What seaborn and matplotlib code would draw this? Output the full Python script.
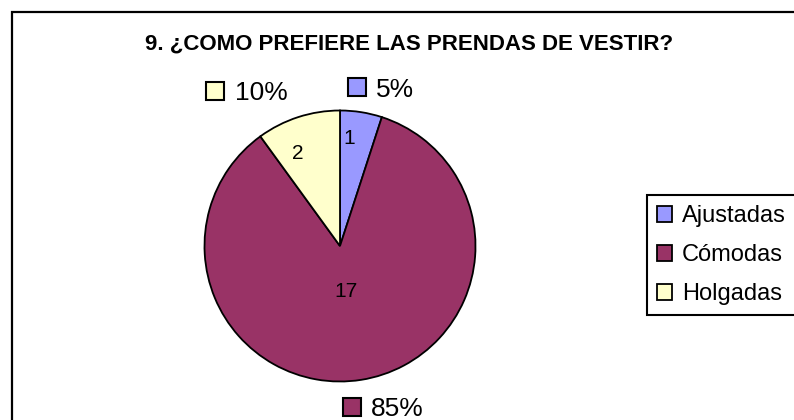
import matplotlib
matplotlib.use("Agg")
import matplotlib.pyplot as plt
import matplotlib.patches as patches
import seaborn as sns

# Data
categories = ["Ajustadas", "Cómodas", "Holgadas"]
counts = [1, 17, 2]
percent_labels = ["5%", "85%", "10%"]
title = "9. ¿COMO PREFIERE LAS PRENDAS DE VESTIR?"

sns.set_theme(style="white")
plt.rcParams["font.family"] = ["Liberation Sans", "DejaVu Sans"]
plt.rcParams["text.color"] = "black"

colors = sns.color_palette(["#9999FF", "#993366", "#FFFFCC"])

W, H = 794, 420
fig = plt.figure(figsize=(W / 100, H / 100), dpi=100)
fig.patch.set_facecolor("white")

# outer chart border (runs off the right and bottom edge)
fig.add_artist(patches.Rectangle((11.5 / W, -0.2), 1.5, 1.2 - 12 / H,
                                 transform=fig.transFigure, fill=False,
                                 edgecolor="black", linewidth=1.6))

fig.text(409 / W, 1 - 49.5 / H, title, ha="center", va="baseline",
         fontsize=16, fontweight="bold")

# pie: centre (340, 246) px, radius 135.5 px
cx, cy, r = 340, 246, 135.5
ax = fig.add_axes([(cx - r) / W, (H - cy - r) / H, 2 * r / W, 2 * r / H])
wedges, _ = ax.pie(counts, colors=colors, startangle=90, counterclock=False,
                   wedgeprops=dict(edgecolor="black", linewidth=1.3))
ax.set_xlim(-1, 1)
ax.set_ylim(-1, 1)
ax.axis("off")

# count labels inside slices
inner_pos = [(0.066, 0.79), (0.044, -0.336), (-0.314, 0.679)]
for (x, y), n in zip(inner_pos, counts):
    ax.text(x, y, str(n), ha="center", va="center", fontsize=15)

# percentage labels with colour key squares
key_pos = [(0.122, 1.173), (0.089, -1.19), (-0.926, 1.144)]
text_pos = [(0.266, 1.100), (0.229, -1.255), (-0.775, 1.077)]
for (kx, ky), (tx, ty), lab, c in zip(key_pos, text_pos, percent_labels, colors):
    ax.plot([kx], [ky], marker="s", markersize=13, markerfacecolor=c,
            markeredgecolor="black", markeredgewidth=1.5, clip_on=False)
    ax.text(tx, ty, lab, ha="left", va="baseline", fontsize=19)

leg = fig.legend(wedges, categories, loc="upper left",
                 bbox_to_anchor=(647 / W, 1 - 195 / H),
                 fontsize=17, frameon=True, fancybox=False, framealpha=1,
                 edgecolor="black", handlelength=0.65, handleheight=0.65,
                 handletextpad=0.4, labelspacing=0.72, borderpad=0.42,
                 borderaxespad=0)
leg.get_frame().set_linewidth(1.5)

fig.savefig("out.png", dpi=100)
